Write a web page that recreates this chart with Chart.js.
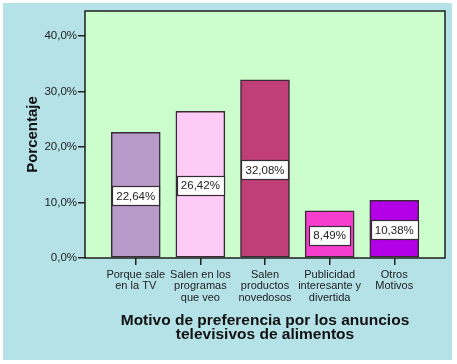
<!DOCTYPE html>
<html><head><meta charset="utf-8">
<script src="https://cdn.jsdelivr.net/npm/chart.js@4/dist/chart.umd.min.js"></script>
<style>html,body{margin:0;padding:0;background:#fff;}#wrap{width:457px;height:364px;}</style>
</head><body><div id="wrap"><canvas id="c" width="457" height="364"></canvas></div>
<script>
const categories = [
  ["Porque sale", "en la TV"],
  ["Salen en los", "programas", "que veo"],
  ["Salen", "productos", "novedosos"],
  ["Publicidad", "interesante y", "divertida"],
  ["Otros", "Motivos"]
];
const percentages = [22.64, 26.42, 32.08, 8.49, 10.38];
const yTicks = [0, 10, 20, 30, 40];
const barColors = ["#b99bc9", "#fdccf6", "#c03f78", "#f53ecd", "#b300e6"];

const FONT = "'Liberation Sans', Arial, sans-serif";
const fmt = v => v.toFixed(1).replace('.', ',') + '%';

const bgPlugin = {
  id: 'bg',
  beforeDraw(chart) {
    const ctx = chart.ctx, a = chart.chartArea;
    ctx.save();
    ctx.fillStyle = '#b5e2e7';
    ctx.fillRect(3, 3, 449, 357);
    ctx.fillStyle = '#ccfdcc';
    ctx.fillRect(a.left, a.top, a.right - a.left, a.bottom - a.top);
    ctx.restore();
  },
  afterDraw(chart) {
    const ctx = chart.ctx, a = chart.chartArea;
    ctx.save();
    ctx.strokeStyle = '#1e1e1e';
    ctx.lineWidth = 1.5;
    ctx.strokeRect(a.left, a.top, a.right - a.left, a.bottom - a.top);
    ctx.restore();
  }
};

const labelPlugin = {
  id: 'barLabels',
  afterDatasetsDraw(chart) {
    const ctx = chart.ctx;
    const meta = chart.getDatasetMeta(0);
    ctx.save();
    ctx.font = '11.5px ' + FONT;
    ctx.textAlign = 'center';
    ctx.textBaseline = 'middle';
    meta.data.forEach((bar, i) => {
      const txt = percentages[i].toFixed(2).replace('.', ',') + '%';
      const w = ctx.measureText(txt).width + 8;
      const h = 19;
      const cx = bar.x, cy = (bar.y + bar.base) / 2 + 1;
      ctx.fillStyle = '#ffffff';
      ctx.fillRect(Math.round(cx - w / 2) + 0.5, Math.round(cy - h / 2) + 0.5, Math.round(w), h);
      ctx.strokeStyle = '#3a2a38';
      ctx.lineWidth = 1.2;
      ctx.strokeRect(Math.round(cx - w / 2) + 0.5, Math.round(cy - h / 2) + 0.5, Math.round(w), h);
      ctx.fillStyle = '#222';
      ctx.fillText(txt, cx, cy + 1);
    });
    ctx.restore();
  }
};

new Chart(document.getElementById('c'), {
  type: 'bar',
  data: {
    datasets: [{
      data: percentages.map((v, i) => ({ x: i, y: v })),
      backgroundColor: barColors,
      borderColor: '#3a2a38',
      borderWidth: 1.5,
      borderSkipped: false,
      barThickness: 49
    }]
  },
  plugins: [bgPlugin, labelPlugin],
  options: {
    responsive: false,
    animation: false,
    devicePixelRatio: 1,
    layout: { padding: { top: 11, right: 12, left: 0, bottom: 0 } },
    plugins: { legend: { display: false }, tooltip: { enabled: false } },
    scales: {
      x: {
        type: 'linear',
        offset: false,
        min: -0.785,
        max: 4.785,
        afterBuildTicks: s => { s.ticks = categories.map((_, i) => ({ value: i })); },
        afterFit: s => { s.height = 106; },
        grid: { offset: false, drawOnChartArea: false, drawTicks: true, tickLength: 7, color: '#222', lineWidth: 1.5 },
        border: { display: false },
        ticks: {
          autoSkip: false,
          maxRotation: 0,
          padding: 4,
          color: '#222',
          font: { family: FONT, size: 11, lineHeight: 1.05 },
          callback: v => categories[v] || ''
        },
        title: {
          display: true,
          text: ['Motivo de preferencia por los anuncios', 'televisivos de alimentos'],
          color: '#111',
          font: { family: FONT, size: 15.5, weight: 'bold', lineHeight: 0.92 },
          padding: { top: 0, bottom: 22 }
        }
      },
      y: {
        min: 0,
        max: 44.5,
        afterBuildTicks: s => { s.ticks = yTicks.map(v => ({ value: v })); },
        afterFit: s => { s.width = 85; },
        grid: { drawOnChartArea: false, drawTicks: true, tickLength: 7, color: '#222', lineWidth: 1.5 },
        border: { display: false },
        ticks: {
          padding: 1,
          color: '#222',
          font: { family: FONT, size: 11.5 },
          callback: v => fmt(v)
        },
        title: {
          display: true,
          text: 'Porcentaje',
          color: '#111',
          font: { family: FONT, size: 15, weight: 'bold', lineHeight: 1 },
          padding: { top: 25, bottom: 0 }
        }
      }
    }
  }
});
</script></body></html>
